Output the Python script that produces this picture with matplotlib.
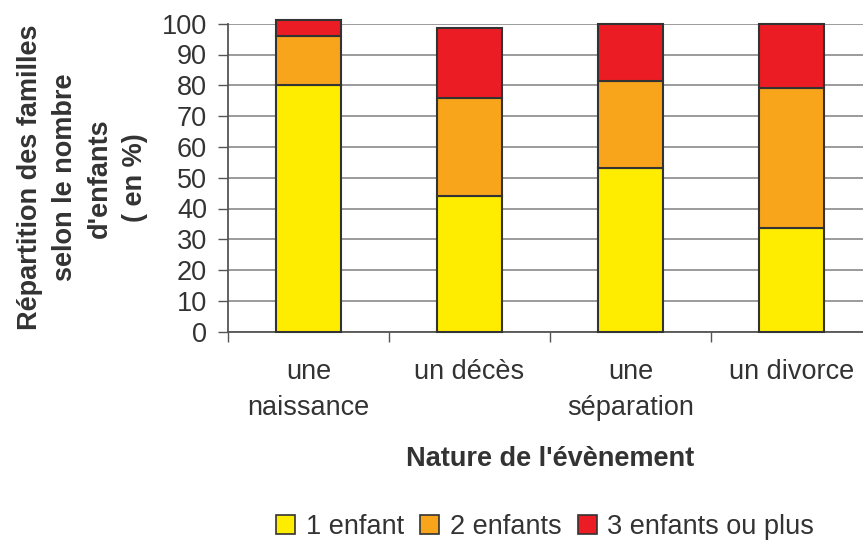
import numpy as np
import matplotlib
matplotlib.use("Agg")
import matplotlib.pyplot as plt
from matplotlib.patches import Patch

plt.rcParams['font.family'] = ['Liberation Sans', 'DejaVu Sans']

categories = ["une\nnaissance", "un décès", "une\nséparation", "un divorce"]
un_enfant = [80, 44.2, 53.1, 33.8]
deux_enfants = [16, 31.8, 28.2, 45.4]
trois_plus = [5.1, 22.6, 18.7, 20.8]
series_names = ["1 enfant", "2 enfants", "3 enfants ou plus"]

COL_1 = "#FFED00"
COL_2 = "#F8A51B"
COL_3 = "#EC1C24"
TXT = "#333333"
FS = 19.5

fig = plt.figure(figsize=(8.63, 5.42), dpi=100)
ax = fig.add_axes([228 / 863, 210.3 / 542, 644 / 863, 308 / 542])

x = np.arange(len(categories))
w = 0.4
b1 = np.array(un_enfant)
b2 = b1 + np.array(deux_enfants)
kw = dict(width=w, edgecolor="#333333", linewidth=1.5, zorder=3, clip_on=False)
ax.bar(x, un_enfant, color=COL_1, **kw)
ax.bar(x, deux_enfants, bottom=b1, color=COL_2, **kw)
ax.bar(x, trois_plus, bottom=b2, color=COL_3, **kw)

ax.set_xlim(-0.5, 3.5)
ax.set_ylim(0, 100)
ax.set_yticks(range(0, 101, 10))
ax.yaxis.grid(True, color="#8a8a8a", linewidth=1.2, zorder=0)
ax.set_axisbelow(True)

for s in ["top", "right"]:
    ax.spines[s].set_visible(False)
for s in ["left", "bottom"]:
    ax.spines[s].set_color("#555555")
    ax.spines[s].set_linewidth(1.3)

ax.tick_params(axis="y", length=7, width=1, color="#555555", labelsize=FS,
               labelcolor=TXT, pad=8)
ax.set_xticks(x)
ax.set_xticklabels(categories, linespacing=1.5)
ax.set_xticks(np.arange(-0.5, 4, 1), minor=True)
ax.tick_params(axis="x", which="major", length=0, labelsize=FS, labelcolor=TXT, pad=20)
ax.tick_params(axis="x", which="minor", length=7, width=1, color="#555555")

ax.set_ylabel("Répartition des familles\nselon le nombre\nd'enfants\n( en %)",
              fontsize=FS, fontweight="bold", color=TXT, linespacing=1.45, labelpad=10)
ax.set_xlabel("Nature de l'évènement", fontsize=FS, fontweight="bold", color=TXT,
              labelpad=18)

handles = [Patch(facecolor=c, edgecolor="#333333", linewidth=1.2) for c in [COL_1, COL_2, COL_3]]
fig.legend(handles, series_names, loc="center", bbox_to_anchor=(545 / 863, 1 - 527 / 542),
           ncol=3, frameon=False, fontsize=FS, labelcolor=TXT, handlelength=0.7,
           handleheight=0.7, handletextpad=0.4, columnspacing=0.6)

fig.savefig("out.png", dpi=100)
